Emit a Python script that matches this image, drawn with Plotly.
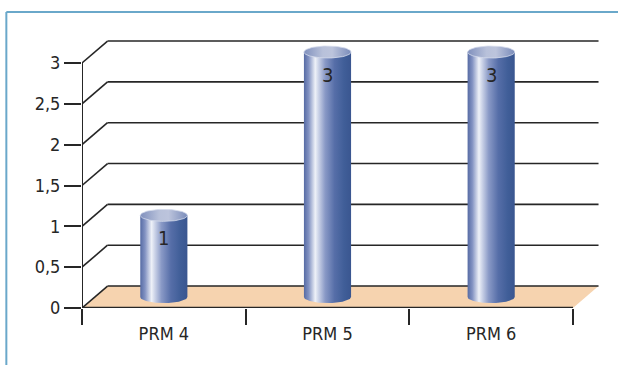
import numpy as np
import plotly.graph_objects as go

categories = ["PRM 4", "PRM 5", "PRM 6"]
values = [1, 3, 3]
ytick_vals = [0, 0.5, 1, 1.5, 2, 2.5, 3]
ytick_text = ["0", "0,5", "1", "1,5", "2", "2,5", "3"]

FONT = "Liberation Sans Narrow, DejaVu Sans Condensed, DejaVu Sans, sans-serif"
TXT = "#262626"
DX, DY = 0.156, 0.269      # depth offset (data units)
HW, RY = 0.144, 0.0735     # cylinder half width, ellipse vertical radius
GRID = "#262626"

fig = go.Figure()
shapes = []

x0, x1 = -0.5, len(categories) - 0.5
# floor
shapes.append(dict(type="path", xref="x", yref="y",
                   path=f"M {x0},0 L {x1},0 L {x1+DX},{DY} L {x0+DX},{DY} Z",
                   fillcolor="#F6D3AF", line=dict(width=0), layer="below"))
# gridlines (diagonal + back)
for v in ytick_vals:
    shapes.append(dict(type="line", xref="x", yref="y", x0=x0, y0=v, x1=x0+DX, y1=v+DY,
                       line=dict(color=GRID, width=1.6), layer="below"))
    shapes.append(dict(type="line", xref="x", yref="y", x0=x0+DX, y0=v+DY, x1=x1+DX, y1=v+DY,
                       line=dict(color=GRID, width=1.6), layer="below"))
# axes lines
shapes.append(dict(type="line", xref="x", yref="y", x0=x0, y0=0, x1=x0, y1=max(ytick_vals),
                   line=dict(color=GRID, width=2)))
shapes.append(dict(type="line", xref="x", yref="y", x0=x0, y0=0, x1=x1, y1=0,
                   line=dict(color=GRID, width=2.5)))
# frame border
shapes.append(dict(type="line", xref="paper", yref="paper", x0=-0.1455, x1=1.2, y0=1.1, y1=1.1,
                   line=dict(color="#6AA8CA", width=2)))
shapes.append(dict(type="line", xref="paper", yref="paper", x0=-0.1455, x1=-0.1455, y0=1.1, y1=-0.3,
                   line=dict(color="#6AA8CA", width=2)))

body_scale = [[0, "#566ba4"], [0.1, "#8292c2"], [0.24, "#eef1f8"], [0.3, "#d0d7ea"],
              [0.45, "#8999c6"], [0.65, "#566ea8"], [0.85, "#405e98"], [1, "#3a5690"]]
cap_scale = [[0, "#8090bd"], [0.4, "#b8c1da"], [0.6, "#bcc4dc"], [1, "#7a8cba"]]

t = np.linspace(0, np.pi, 40)
full = np.linspace(0, 2 * np.pi, 80)
for i, (c, v) in enumerate(zip(categories, values)):
    base = DY / 2
    top = v + DY / 2
    bx = list(i - HW * np.cos(t)) + [i + HW, i - HW, i - HW]
    by = list(base - RY * np.sin(t)) + [top, top, base]
    fig.add_trace(go.Scatter(x=bx, y=by, mode="lines", fill="toself", line=dict(width=0),
                             fillgradient=dict(type="horizontal", colorscale=body_scale),
                             hoverinfo="skip", showlegend=False))
    fig.add_trace(go.Scatter(x=i + HW * np.cos(full), y=top + RY * np.sin(full), mode="lines",
                             fill="toself", line=dict(width=0.8, color="#d4dbeb"),
                             fillgradient=dict(type="horizontal", colorscale=cap_scale),
                             hoverinfo="skip", showlegend=False))
    fig.add_annotation(x=i, y=top, yref="y", text=str(v), showarrow=False, yshift=-23,
                       font=dict(family=FONT, size=20, color=TXT))

# dummy trace for category axis labels
fig.add_trace(go.Scatter(x=[0, 1, 2], y=[0, 0, 0], xaxis="x2", mode="markers",
                         marker=dict(opacity=0), hoverinfo="skip", showlegend=False))

xr = [x0, x1 + 29 / 163.67]
fig.update_layout(
    width=618, height=365,
    margin=dict(l=82, r=16, t=39, b=57),
    paper_bgcolor="white", plot_bgcolor="white",
    shapes=shapes,
    xaxis=dict(range=xr, tickvals=[-0.5, 0.5, 1.5, 2.5], ticktext=["", "", "", ""],
               ticks="outside", ticklen=16, tickwidth=1.5, tickcolor=GRID,
               showgrid=False, zeroline=False, showline=False),
    xaxis2=dict(range=xr, overlaying="x", side="bottom", anchor="y",
                tickvals=[0, 1, 2], ticktext=categories, ticks="outside", ticklen=9,
                tickcolor="rgba(0,0,0,0)", showgrid=False, zeroline=False, showline=False,
                tickfont=dict(family=FONT, size=18, color=TXT)),
    yaxis=dict(range=[0, 3.294], tickvals=ytick_vals, ticktext=ytick_text,
               ticks="outside", ticklen=17, tickwidth=1.5, tickcolor=GRID,
               showgrid=False, zeroline=False, showline=False,
               tickfont=dict(family=FONT, size=18, color=TXT)),
)
fig.write_html("out.html")
